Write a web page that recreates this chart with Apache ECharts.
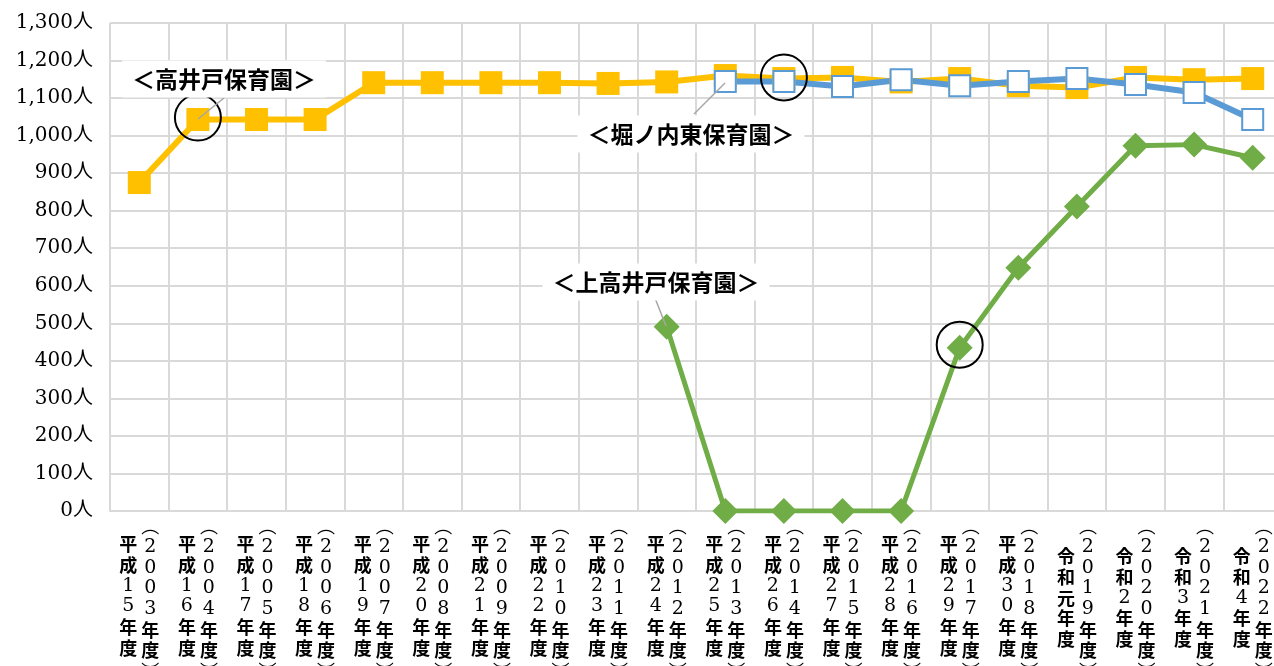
<!DOCTYPE html>
<html><head><meta charset="utf-8">
<script src="https://cdn.jsdelivr.net/npm/echarts@6/dist/echarts.min.js"></script>
<style>html,body{margin:0;padding:0;background:#fff}#c{width:1274px;height:666px}</style>
</head><body><div id="c"></div>
<script>
// ---- data ----
const eraLabels = ['平成15年度','平成16年度','平成17年度','平成18年度','平成19年度','平成20年度','平成21年度','平成22年度','平成23年度','平成24年度','平成25年度','平成26年度','平成27年度','平成28年度','平成29年度','平成30年度','令和元年度','令和2年度','令和3年度','令和4年度'];
const westernYears = ['2003','2004','2005','2006','2007','2008','2009','2010','2011','2012','2013','2014','2015','2016','2017','2018','2019','2020','2021','2022'];
const takaido = [875,1043,1043,1043,1141,1141,1141,1141,1139,1143,1160,1152,1155,1143,1152,1133,1128,1155,1149,1152];
const horinouchiHigashi = [null,null,null,null,null,null,null,null,null,null,1144,1144,1131,1149,1133,1144,1152,1136,1115,1043];
const kamitakaido = [null,null,null,null,null,null,null,null,null,491,0,0,0,0,435,648,811,973,976,941];
const yTicks = {min:0, max:1300, interval:100};
const seriesNames = ['＜高井戸保育園＞','＜堀ノ内東保育園＞','＜上高井戸保育園＞'];

const CJK = '"Noto Sans CJK JP"';
const rich = {
  c:{fontFamily:CJK,fontWeight:'bold',fontSize:18,width:22,align:'center',lineHeight:20.7,color:'#000'},
  d:{fontFamily:'"DejaVu Serif"',fontSize:19,width:22,align:'center',lineHeight:20.7,color:'#000'},
  p:{fontFamily:CJK,fontSize:18,width:22,align:'center',lineHeight:20.7,color:'#000'},
  h:{fontSize:1,lineHeight:12,width:22}
};
function charTag(ch){ return /[0-9]/.test(ch) ? '{d|'+ch+'}' : '{c|'+ch+'}'; }
function leftCol(v){
  const chars = v.split('').map(charTag);
  const pre = v.startsWith('令和') ? ['{h| }'] : [];
  return pre.concat(chars).join('\n');
}
function rightCol(v, i){
  const y = westernYears[i];
  return ['{p|︵}'].concat((y+'年度').split('').map(charTag)).concat(['{p|︶}']).join('\n');
}

const chart = echarts.init(document.getElementById('c'));
const gridColor = '#d9d9d9';
chart.setOption({
  animation:false,
  grid:{left:110, right:-8, top:23, bottom:155, containLabel:false, outerBoundsMode:'none'},
  xAxis:[{
    type:'category', data:eraLabels, boundaryGap:true,
    axisLine:{show:true,lineStyle:{color:gridColor,width:2}},
    axisTick:{show:false},
    splitLine:{show:true,interval:0,lineStyle:{color:gridColor,width:2}},
    axisLabel:{interval:0, margin:23, align:'right', formatter:leftCol, rich:rich}
  },{
    type:'category', data:eraLabels, boundaryGap:true, position:'bottom',
    axisLine:{show:false}, axisTick:{show:false}, splitLine:{show:false},
    axisLabel:{interval:0, margin:5, align:'left', formatter:rightCol, rich:rich}
  }],
  yAxis:{
    type:'value', min:yTicks.min, max:yTicks.max, interval:yTicks.interval,
    axisLine:{show:false}, axisTick:{show:false},
    splitLine:{lineStyle:{color:gridColor,width:2}},
    axisLabel:{margin:17, color:'#000', fontSize:20, fontFamily:'"DejaVu Serif", '+CJK,
      formatter:v=>v.toLocaleString('en-US')+'人'}
  },
  series:[{
    name:seriesNames[0], type:'line', data:takaido,
    symbol:'rect', symbolSize:23,
    lineStyle:{color:'#FFC000',width:6}, itemStyle:{color:'#FFC000'},
    markPoint:{symbol:'circle',symbolSize:46,label:{show:false},
      itemStyle:{color:'rgba(0,0,0,0)',borderColor:'#000',borderWidth:2},
      data:[{coord:['平成16年度',1048]}]}
  },{
    name:seriesNames[1], type:'line', data:horinouchiHigashi,
    symbol:'rect', symbolSize:21,
    lineStyle:{color:'#5B9BD5',width:6}, itemStyle:{color:'#fff',borderColor:'#5B9BD5',borderWidth:2},
    markPoint:{symbol:'circle',symbolSize:46,label:{show:false},
      itemStyle:{color:'rgba(0,0,0,0)',borderColor:'#000',borderWidth:2},
      data:[{coord:['平成26年度',1155]}]}
  },{
    name:seriesNames[2], type:'line', data:kamitakaido,
    symbol:'diamond', symbolSize:26,
    lineStyle:{color:'#70AD47',width:5}, itemStyle:{color:'#70AD47'},
    markPoint:{symbol:'circle',symbolSize:46,label:{show:false},
      itemStyle:{color:'rgba(0,0,0,0)',borderColor:'#000',borderWidth:2},
      data:[{coord:['平成29年度',443]}]}
  }],
  graphic:[
    {type:'line',z:50,shape:{x1:198,y1:119,x2:224,y2:98},style:{stroke:'#a6a6a6',lineWidth:1.5}},
    {type:'line',z:50,shape:{x1:725,y1:83,x2:694,y2:114},style:{stroke:'#a6a6a6',lineWidth:1.5}},
    {type:'line',z:50,shape:{x1:666,y1:326,x2:655,y2:298},style:{stroke:'#a6a6a6',lineWidth:1.5}},
    {type:'text',z:60,x:224,y:79,style:{text:seriesNames[0],align:'center',verticalAlign:'middle',
      font:'bold 23px '+CJK,fill:'#000',backgroundColor:'#fff',padding:[7,10]}},
    {type:'text',z:60,x:691,y:134,style:{text:seriesNames[1],align:'center',verticalAlign:'middle',
      font:'bold 23px '+CJK,fill:'#000',backgroundColor:'#fff',padding:[7,10]}},
    {type:'text',z:60,x:656,y:282,style:{text:seriesNames[2],align:'center',verticalAlign:'middle',
      font:'bold 23px '+CJK,fill:'#000',backgroundColor:'#fff',padding:[7,10]}}
  ]
});
</script></body></html>
